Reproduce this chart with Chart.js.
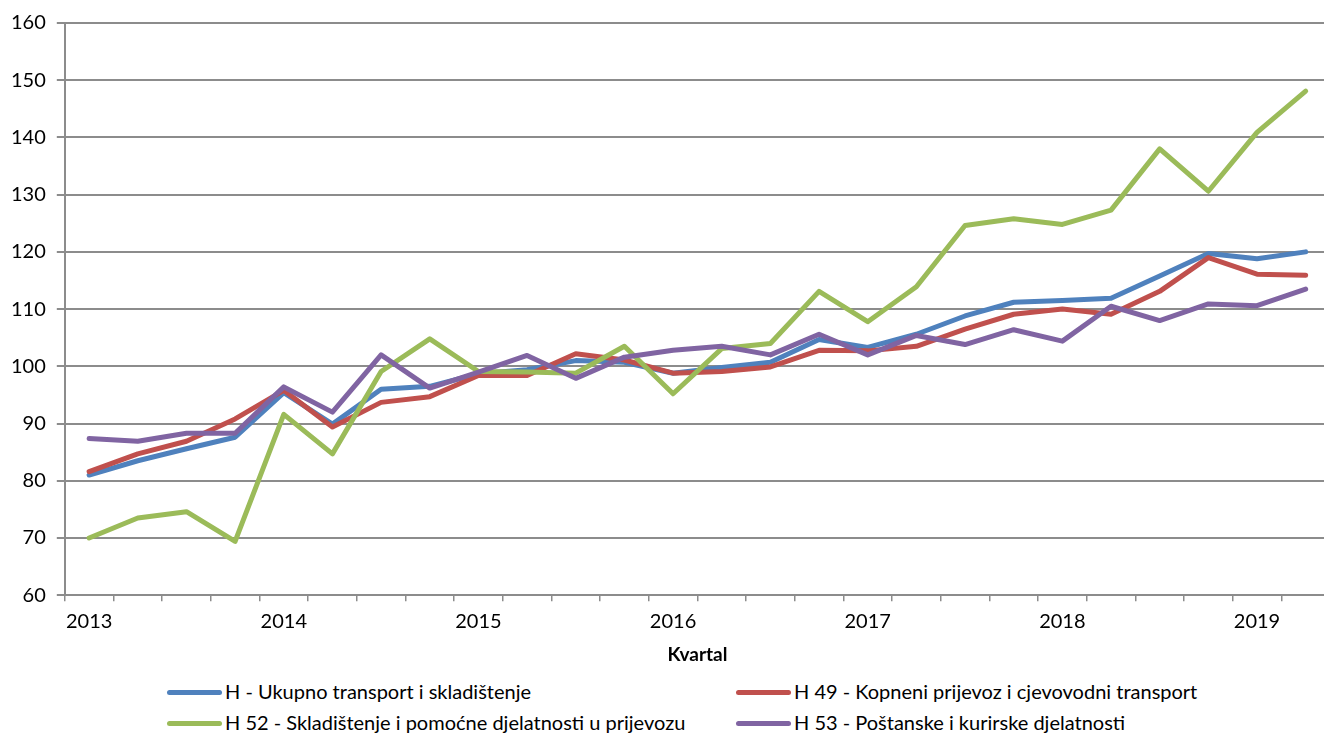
<!DOCTYPE html>
<html lang="hr">
  <head>
    <meta charset="UTF-8" />
    <meta name="viewport" content="width=device-width, initial-scale=1.0" />
    <script src="https://cdn.jsdelivr.net/npm/chart.js@4.4.1/dist/chart.umd.min.js"></script>
    <title>Transport i skladištenje</title>
    <style>
      html, body { margin: 0; padding: 0; background: #fff; overflow: hidden; }
      body { width: 1324px; height: 733px; position: relative; font-family: Lato, sans-serif; }
      #myChart { position: absolute; left: 0; top: 0; }
      .leg { position: absolute; font-size: 20px; color: #000; white-space: nowrap; line-height: 22px; }
      .leg span.ln { display: inline-block; width: 55px; height: 5px; border-radius: 3px; vertical-align: middle; margin-right: 3px; position: relative; top: -1px; }
    </style>
  </head>
  <body>
    <canvas id="myChart" width="1332" height="670"></canvas>
    <div id="legend"></div>
    <script>
      // kvartali 2013 Q1 - 2019 Q2
      const quarters = [
        "2013 Q1", "2013 Q2", "2013 Q3", "2013 Q4",
        "2014 Q1", "2014 Q2", "2014 Q3", "2014 Q4",
        "2015 Q1", "2015 Q2", "2015 Q3", "2015 Q4",
        "2016 Q1", "2016 Q2", "2016 Q3", "2016 Q4",
        "2017 Q1", "2017 Q2", "2017 Q3", "2017 Q4",
        "2018 Q1", "2018 Q2", "2018 Q3", "2018 Q4",
        "2019 Q1", "2019 Q2",
      ];

      const ukupno = [81.0, 83.5, 85.6, 87.6, 95.4, 89.9, 96.0, 96.5, 98.7, 99.4, 101.0, 100.7, 98.8, 99.8, 100.7, 104.7, 103.3, 105.6, 108.8, 111.2, 111.5, 111.9, 115.8, 119.7, 118.8, 120.0];
      const h49 = [81.6, 84.7, 86.9, 90.8, 95.8, 89.4, 93.7, 94.7, 98.4, 98.4, 102.2, 101.1, 98.8, 99.1, 99.9, 102.8, 102.7, 103.5, 106.5, 109.1, 110.0, 109.1, 113.1, 119.0, 116.1, 115.9];
      const h52 = [70.0, 73.5, 74.6, 69.4, 91.6, 84.7, 99.1, 104.8, 99.1, 99.0, 98.8, 103.5, 95.2, 103.1, 104.0, 113.1, 107.8, 113.9, 124.6, 125.8, 124.8, 127.3, 138.0, 130.6, 140.9, 148.1];
      const h53 = [87.4, 86.9, 88.3, 88.3, 96.4, 92.0, 102.0, 96.2, 99.0, 101.9, 97.9, 101.6, 102.8, 103.5, 102.0, 105.6, 102.0, 105.4, 103.8, 106.4, 104.4, 110.5, 108.0, 110.9, 110.6, 113.5];

      const seriesNames = [
        "H - Ukupno transport i skladištenje",
        "H 49 - Kopneni prijevoz i cjevovodni transport",
        "H 52 - Skladištenje i pomoćne djelatnosti u prijevozu",
        "H 53 - Poštanske i kurirske djelatnosti",
      ];
      const colors = ["#4f81bd", "#c0504d", "#9bbb59", "#8064a2"];

      const gridColor = "#8c8c8c";
      const font = { family: "Lato, sans-serif", size: 20 };

      // purple on top, as in the original
      const order = [3, 2, 1, 0];
      const allData = [ukupno, h49, h52, h53];

      const ctx = document.getElementById("myChart").getContext("2d");
      const myChart = new Chart(ctx, {
        type: "line",
        data: {
          labels: quarters,
          datasets: allData.map((d, i) => ({
            label: seriesNames[i],
            data: d,
            borderColor: colors[i],
            backgroundColor: colors[i],
            borderWidth: 5,
            borderCapStyle: "round",
            borderJoinStyle: "round",
            pointRadius: 0,
            tension: 0,
            order: order[i],
          })),
        },
        options: {
          responsive: false,
          animation: false,
          layout: { padding: { left: 0, top: 12, right: 2, bottom: 4 } },
          plugins: {
            legend: { display: false },
            tooltip: { enabled: false },
          },
          scales: {
            x: {
              offset: true,
              grid: {
                offset: true,
                drawOnChartArea: false,
                color: gridColor,
                lineWidth: 1.5,
                tickLength: 6,
              },
              border: { color: gridColor, width: 2 },
              ticks: {
                autoSkip: false,
                maxRotation: 0,
                padding: 8,
                color: "#000",
                font: font,
                callback: function (val, idx) {
                  const q = quarters[idx];
                  return q.endsWith("Q1") ? q.slice(0, 4) : "";
                },
              },
              title: {
                display: true,
                text: "Kvartal",
                color: "#000",
                font: { family: font.family, size: 19, weight: "bold" },
                padding: { top: 2, bottom: 0 },
              },
            },
            y: {
              min: 60,
              max: 160,
              grid: { color: gridColor, lineWidth: 2, tickLength: 8 },
              border: { color: gridColor, width: 2 },
              ticks: {
                stepSize: 10,
                padding: 11,
                color: "#000",
                font: font,
              },
            },
          },
        },
      });

      // legenda u dva stupca
      const legPos = [
        { left: 167, top: 680 },
        { left: 736, top: 680 },
        { left: 167, top: 711 },
        { left: 736, top: 711 },
      ];
      const legend = document.getElementById("legend");
      seriesNames.forEach((name, i) => {
        const div = document.createElement("div");
        div.className = "leg";
        div.style.left = legPos[i].left + "px";
        div.style.top = legPos[i].top + "px";
        const ln = document.createElement("span");
        ln.className = "ln";
        ln.style.background = colors[i];
        div.appendChild(ln);
        div.appendChild(document.createTextNode(name));
        legend.appendChild(div);
      });
    </script>
  </body>
</html>
